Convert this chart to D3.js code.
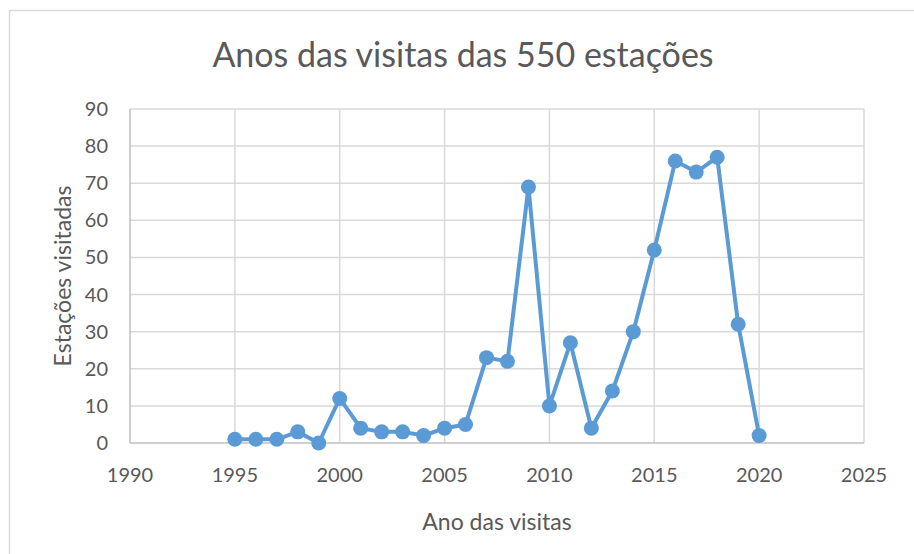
<!DOCTYPE html>
<html>
<head>
<meta charset="utf-8">
<script src="https://cdn.jsdelivr.net/npm/d3@7"></script>
<style>
  body { margin: 0; background: #fff; }
  svg text { font-family: Lato, "Open Sans", sans-serif; fill: #595959; }
</style>
</head>
<body>
<svg id="chart" width="914" height="554"></svg>
<script>
// data
var anos = [1995, 1996, 1997, 1998, 1999, 2000, 2001, 2002, 2003, 2004, 2005, 2006, 2007,
            2008, 2009, 2010, 2011, 2012, 2013, 2014, 2015, 2016, 2017, 2018, 2019, 2020];
var visitas = [1, 1, 1, 3, 0, 12, 4, 3, 3, 2, 4, 5, 23,
               22, 69, 10, 27, 4, 14, 30, 52, 76, 73, 77, 32, 2];
var xTicks = [1990, 1995, 2000, 2005, 2010, 2015, 2020, 2025];
var yTicks = [0, 10, 20, 30, 40, 50, 60, 70, 80, 90];

var titulo = "Anos das visitas das 550 estações";
var tituloX = "Ano das visitas";
var tituloY = "Estações visitadas";

var svg = d3.select("#chart");
var margin = {left: 130, right: 50, top: 109, bottom: 111};
var W = 914, H = 554;

var x = d3.scaleLinear().domain([1990, 2025]).range([margin.left, W - margin.right]);
var y = d3.scaleLinear().domain([0, 90]).range([H - margin.bottom, margin.top]);

// chart frame (cut off at right and bottom like the screenshot)
svg.append("rect")
    .attr("x", 9.5).attr("y", 10.5)
    .attr("width", 920).attr("height", 560)
    .attr("fill", "none")
    .attr("stroke", "#d9d9d9")
    .attr("stroke-width", 1.5);

// gridlines
svg.append("g").selectAll("line.h")
    .data(yTicks.slice(1))
    .enter().append("line")
    .attr("x1", x(1990)).attr("x2", x(2025))
    .attr("y1", function(d) { return y(d); })
    .attr("y2", function(d) { return y(d); })
    .attr("stroke", "#d9d9d9").attr("stroke-width", 1.5);

svg.append("g").selectAll("line.v")
    .data(xTicks.slice(1))
    .enter().append("line")
    .attr("y1", y(0)).attr("y2", y(90))
    .attr("x1", function(d) { return x(d); })
    .attr("x2", function(d) { return x(d); })
    .attr("stroke", "#d9d9d9").attr("stroke-width", 1.5);

// axis lines
svg.append("line")
    .attr("x1", x(1990)).attr("x2", x(2025))
    .attr("y1", y(0)).attr("y2", y(0))
    .attr("stroke", "#bfbfbf").attr("stroke-width", 1.5);
svg.append("line")
    .attr("x1", x(1990)).attr("x2", x(1990))
    .attr("y1", y(0)).attr("y2", y(90))
    .attr("stroke", "#bfbfbf").attr("stroke-width", 1.5);

// tick labels
svg.append("g").selectAll("text")
    .data(yTicks)
    .enter().append("text")
    .attr("x", x(1990) - 22)
    .attr("y", function(d) { return y(d); })
    .attr("dy", "0.35em")
    .attr("text-anchor", "end")
    .style("font-size", "20px")
    .text(function(d) { return d; });

svg.append("g").selectAll("text")
    .data(xTicks)
    .enter().append("text")
    .attr("x", function(d) { return x(d); })
    .attr("y", y(0) + 39)
    .attr("text-anchor", "middle")
    .style("font-size", "20px")
    .text(function(d) { return d; });

// titles
svg.append("text")
    .attr("x", 463)
    .attr("y", 67)
    .attr("text-anchor", "middle")
    .style("font-size", "34px")
    .text(titulo);

svg.append("text")
    .attr("x", (x(1990) + x(2025)) / 2)
    .attr("y", 530)
    .attr("text-anchor", "middle")
    .style("font-size", "23px")
    .text(tituloX);

svg.append("text")
    .attr("transform", "translate(71," + (y(0) + y(90)) / 2 + ") rotate(-90)")
    .attr("text-anchor", "middle")
    .style("font-size", "23px")
    .text(tituloY);

// series
var pts = anos.map(function(a, i) { return {ano: a, v: visitas[i]}; });

var line = d3.line()
    .x(function(d) { return x(d.ano); })
    .y(function(d) { return y(d.v); });

svg.append("path")
    .datum(pts)
    .attr("d", line)
    .attr("fill", "none")
    .attr("stroke", "#5b9bd5")
    .attr("stroke-width", 4)
    .attr("stroke-linejoin", "round");

svg.append("g").selectAll("circle")
    .data(pts)
    .enter().append("circle")
    .attr("cx", function(d) { return x(d.ano); })
    .attr("cy", function(d) { return y(d.v); })
    .attr("r", 7.5)
    .attr("fill", "#5b9bd5");
</script>
</body>
</html>
